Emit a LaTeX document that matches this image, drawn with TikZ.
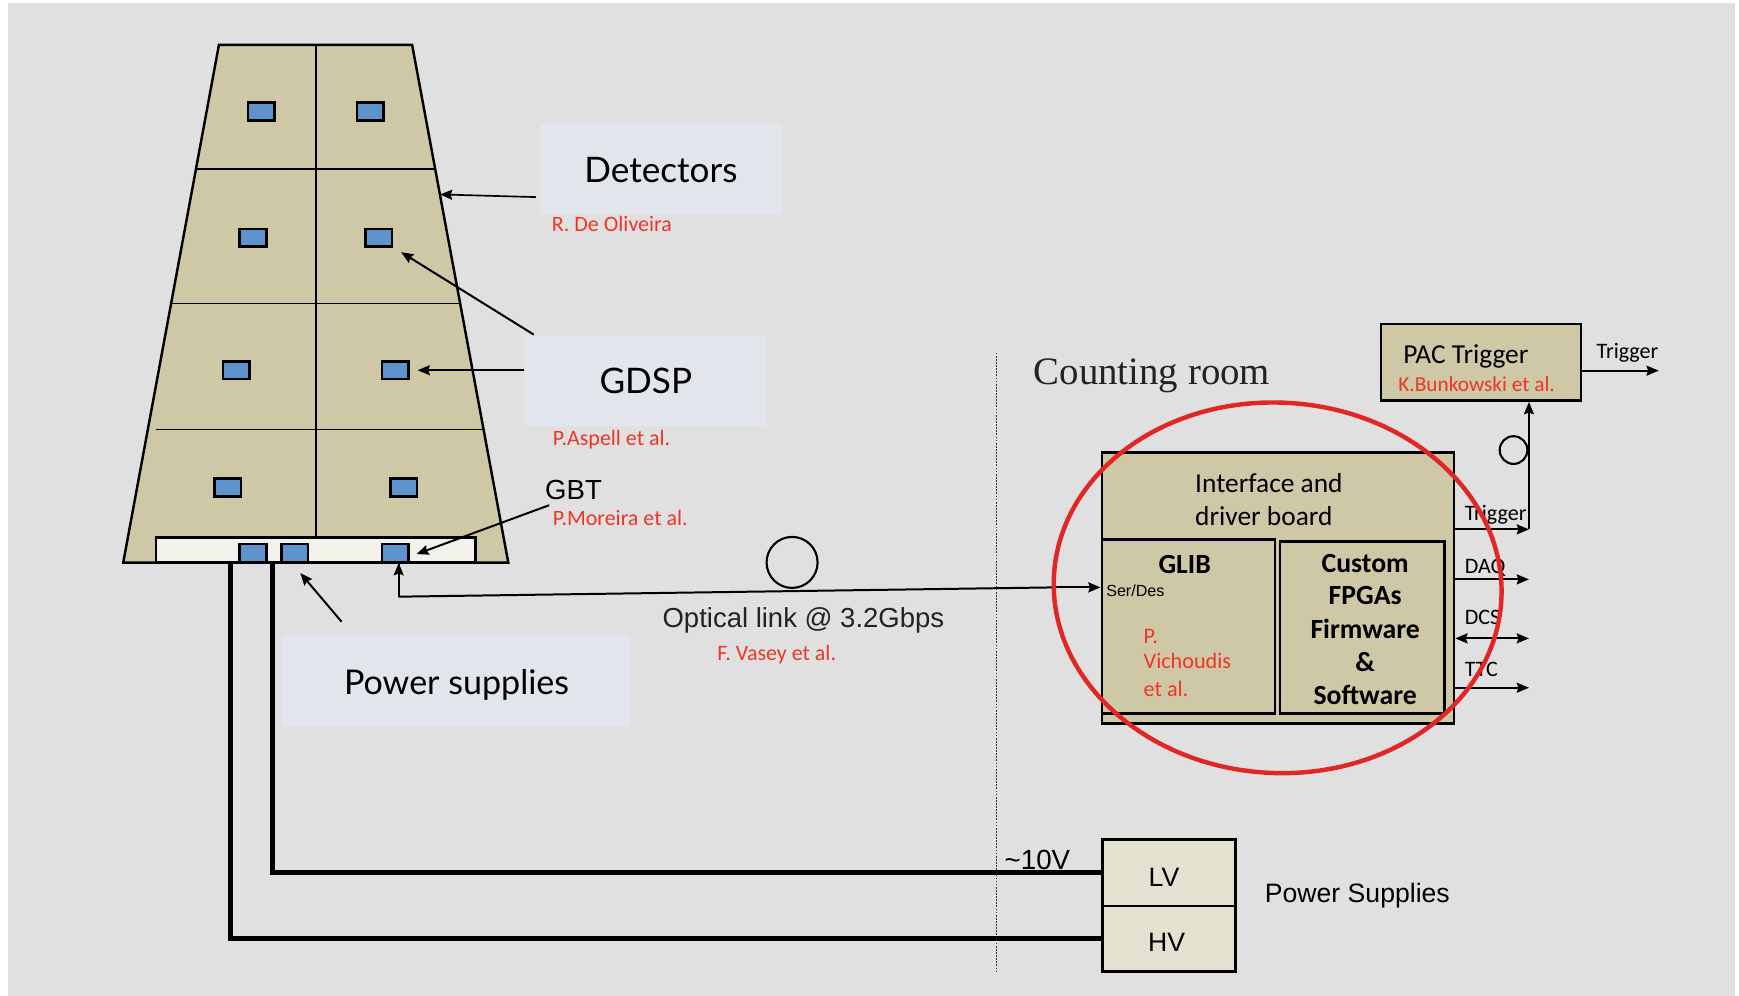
\documentclass[tikz,border=0pt]{standalone}
\usepackage{fontspec}
\setmainfont{Liberation Sans}
\newfontfamily\calfont{Carlito}
\newfontfamily\humfont{Lato}
\newfontfamily\romfont{Liberation Serif}
\usetikzlibrary{arrows.meta,calc}

\definecolor{bggray}{RGB}{224,224,224}
\definecolor{sandfill}{RGB}{207,200,166}
\definecolor{chipblue}{RGB}{94,146,204}
\definecolor{barwhite}{RGB}{243,242,234}
\definecolor{tagbg}{RGB}{226,229,236}
\definecolor{namered}{RGB}{240,52,40}
\definecolor{psfill}{RGB}{227,225,207}
\definecolor{ringred}{RGB}{226,38,38}
\definecolor{dotblue}{RGB}{45,55,75}
\definecolor{darktext}{RGB}{35,35,35}

\tikzset{
  chip/.style={draw=black, line width=2.2pt, fill=chipblue, minimum width=24pt, minimum height=16pt, inner sep=0pt},
  tag/.style={fill=tagbg, inner sep=0pt},
  board/.style={draw=black, line width=2.4pt, fill=sandfill, inner sep=0pt},
  psbox/.style={draw=black, line width=2.4pt, fill=psfill, inner sep=0pt, minimum width=120pt},
  txt/.style={inner sep=0pt, anchor=base west},
  ctxt/.style={inner sep=0pt, anchor=base},
  arr/.style={line width=1.8pt, -{Stealth[length=11pt,width=9pt,inset=1.5pt]}},
  darr/.style={line width=1.8pt, {Stealth[length=11pt,width=9pt,inset=1.5pt]}-{Stealth[length=11pt,width=9pt,inset=1.5pt]}},
  fibre/.style={line width=1.8pt},
  loopring/.style={draw=black, circle, line width=1.9pt, inner sep=0pt},
  cable/.style={line width=4.5pt, line join=miter},
  divider/.style={line width=1.6pt},
  names/.style={text=namered, font=\calfont\fontsize{19.8}{24}\selectfont},
  tagfont/.style={font=\humfont\fontsize{31.7}{36}\selectfont},
}

\begin{document}
\begin{tikzpicture}[x=1pt,y=-1pt]
\useasboundingbox (0,0) rectangle (1568,898);
\fill[white] (0,0) rectangle (1568,898);
\fill[bggray] (7.2,2.7) rectangle (1564.5,898);

% ---------------- detector stack ----------------
\coordinate (TL) at (197.4,40.4);
\coordinate (TR) at (371.6,40.4);
\coordinate (BR) at (458.3,507.3);
\coordinate (BL) at (111.1,507.3);
\filldraw[fill=sandfill, line width=2.2pt] (TL) -- (TR) -- (BR) -- (BL) -- cycle;
\draw[divider] (176.7,152.2) -- (392.4,152.2);
\draw[divider] (154.3,273.6) -- (414.9,273.6);
\draw[divider] (140.8,387.2) -- (435.5,387.2);
\draw[divider] (285,40.4) -- (285,484.8);

\node[draw=black, line width=2.2pt, fill=barwhite, minimum width=288pt, minimum height=22.5pt, inner sep=0pt] (bar) at (284.85,496.05) {};

% front-end chips
\node[chip] (c1l) at (235.5,100.5) {};
\node[chip] (c1r) at (333.9,100.5) {};
\node[chip] (c2l) at (228.1,214.3) {};
\node[chip] (c2r) at (341.6,214.3) {};
\node[chip] (c3l) at (213.1,333.8) {};
\node[chip] (c3r) at (356.5,333.8) {};
\node[chip] (c4l) at (205.3,439.6) {};
\node[chip] (c4r) at (364.1,439.6) {};
\node[chip] (b1) at (228.1,498.6) {};
\node[chip] (b2) at (265.7,498.6) {};
\node[chip] (b3) at (356.5,498.6) {};

% ---------------- labels on the left ----------------
\node[tag, minimum width=218pt, minimum height=82pt] (det) at (595.9,151.7) {};
\node[ctxt, tagfont] (detT) at (595.9,164.9) {Detectors};
\node[txt, names] (detN) at (497.5,208.3) {R. De Oliveira};

\node[tag, minimum width=218pt, minimum height=82pt] (gdsp) at (581.5,342.9) {};
\node[ctxt, tagfont] (gdspT) at (582.3,355.2) {GDSP};
\node[txt, names] (gdspN) at (498.4,401.8) {P.Aspell et al.};

\node[txt, font=\fontsize{24.9}{28}\selectfont] (gbt) at (491.4,450) {GBT};
\node[txt, names] (gbtN) at (498.4,473.5) {P.Moreira et al.};

\node[tag, minimum width=314pt, minimum height=82pt] (ps) at (411.4,613.5) {};
\node[ctxt, font=\humfont\fontsize{30.7}{36}\selectfont] (psT) at (411.7,625.8) {Power supplies};

\coordinate (detEdge) at (396.8,175.3);
\coordinate (detFrom) at (483.1,177.7);
\draw[arr, line width=1.5pt] (detFrom) -- (detEdge);
\draw[arr] ($(gdsp.north west)+(9,0)$) -- ($(c2r.south east)+(7,4)$);
\draw[arr] (gdsp.west |- c3r) -- ($(c3r.east)+(7,0)$);
\draw[arr] (495.2,455.5) -- ($(b3.east)+(6,1)$);
\draw[arr] (308,560.6) -- ($(b2.south east)+(-8,9)$);

% ---------------- optical link ----------------
\coordinate (bend) at (359.5,538);
\coordinate (sdy) at (0,529.6);
\node[loopring, minimum size=46pt] (oloop) at (714.2,507.1) {};
\draw[fibre] (bend) -- (bend |- b3.south);
\draw[arr] (bend |- 0,512) -- (bend |- b3.south);
\node[ctxt, text=darktext, font=\fontsize{24.8}{28}\selectfont] (optT) at (724.4,566.1) {Optical link @ 3.2Gbps};
\node[ctxt, names] (optN) at (700.3,595.3) {F. Vasey et al.};

% ---------------- counting room ----------------
\node[txt, text=darktext, font=\romfont\fontsize{35}{40}\selectfont] (room) at (932,347) {Counting room};

\node[board, minimum width=317.5pt, minimum height=244pt] (iface) at (1152.25,530.2) {};
\node[board, minimum width=156.2pt, minimum height=156.9pt] (glib) at (1071.6,564.75) {};
\node[board, minimum width=148.5pt, minimum height=154.8pt] (cust) at (1228.45,565.8) {};
\draw[fibre] (bend) -- ($(glib.west |- sdy)+(-40,0)$);
\draw[arr] ($(glib.west |- sdy)+(-40,0)$) -- (glib.west |- sdy);

\node[txt, font=\calfont\fontsize{24.7}{28}\selectfont] (ifT1) at (1077.5,444.4) {Interface and};
\node[txt, font=\calfont\fontsize{24.7}{28}\selectfont] (ifT2) at (1077.5,473.9) {driver board};
\node[ctxt, font=\calfont\bfseries\fontsize{25}{30}\selectfont] (glibT) at (1068.2,517.5) {GLIB};
\node[txt, font=\fontsize{14.5}{17}\selectfont] (serdes) at (997.3,538.1) {Ser/Des};
\node[txt, text=namered, font=\calfont\fontsize{20}{24}\selectfont] (vi1) at (1031,579.9) {P.};
\node[txt, text=namered, font=\calfont\fontsize{20}{24}\selectfont] (vi2) at (1031,603) {Vichoudis};
\node[txt, text=namered, font=\calfont\fontsize{20}{24}\selectfont] (vi3) at (1031,628) {et al.};
\foreach \t/\yy [count=\i] in {Custom/516, FPGAs/545.4, Firmware/575.5, \&/605.6, Software/635.6}
  \node[ctxt, font=\calfont\bfseries\fontsize{25}{30}\selectfont] (cu\i) at (1230.9,\yy) {\t};

% outputs of the board
\coordinate (yTrg) at (0,477.3);
\coordinate (yDaq) at (0,522.4);
\coordinate (yDcs) at (0,575.6);
\coordinate (yTtc) at (0,620.1);
\coordinate (trgEnd) at (1378.6,477.3);
\draw[arr] (iface.east |- yTrg) -- (trgEnd);
\draw[arr] (iface.east |- yDaq) -- (trgEnd |- yDaq);
\draw[darr] (iface.east |- yDcs) -- (trgEnd |- yDcs);
\draw[arr] (iface.east |- yTtc) -- (trgEnd |- yTtc);
\node[txt, font=\calfont\fontsize{19.9}{23}\selectfont] (lTrg) at (1320.6,469.2) {Trigger};
\node[txt, font=\calfont\fontsize{19.9}{23}\selectfont] (lDaq) at (1320.6,517.3) {DAQ};
\node[txt, font=\calfont\fontsize{19.9}{23}\selectfont] (lDcs) at (1320.6,562.9) {DCS};
\node[txt, font=\calfont\fontsize{19.9}{23}\selectfont] (lTtc) at (1320.6,610.4) {TTC};

% PAC trigger
\node[board, minimum width=180.3pt, minimum height=69.1pt] (pac) at (1335.45,326.75) {};
\node[txt, font=\calfont\fontsize{24.7}{28}\selectfont] (pacT) at (1265.1,328) {PAC Trigger};
\node[txt, text=namered, font=\calfont\fontsize{19.25}{23}\selectfont] (pacN) at (1260.6,353.4) {K.Bunkowski et al.};
\node[loopring, minimum size=25pt] (tloop) at (1364.7,405.8) {};
\draw[arr] (trgEnd) -- (trgEnd |- pac.south);
\coordinate (pacOut) at (1495.6,334.2);
\draw[arr] (pac.east |- pacOut) -- (pacOut);
\node[txt, font=\calfont\fontsize{19.9}{23}\selectfont] (pacTrg) at (1439.5,323.4) {Trigger};

% highlight ring
\draw[ringred, line width=4pt] (1152,530) ellipse [x radius=202pt, y radius=167pt, rotate=-3];

% ---------------- power supplies ----------------
\node[psbox, minimum height=60.1pt] (lv) at (1053.8,786.85) {};
\node[psbox, minimum height=59.3pt] (hv) at (1053.8,846.55) {};
\node[ctxt, font=\fontsize{24}{28}\selectfont] (lvT) at (1049.5,799.1) {LV};
\node[ctxt, font=\fontsize{24}{28}\selectfont] (hvT) at (1051.8,857.7) {HV};
\node[txt, font=\fontsize{24}{28}\selectfont] (psR) at (1140.3,813.9) {Power Supplies};
\coordinate (hvTap) at (208.1,507.3);
\coordinate (lvTap) at (245.6,507.3);
\draw[cable] (hvTap) |- (hv.west);
\draw[cable] (lvTap) |- (lv.west);
\node[txt, font=\fontsize{25}{28}\selectfont] (tenV) at (905.7,784.4) {\textasciitilde 10V};

% boundary of the counting room
\coordinate (wallTop) at (898.7,318);
\coordinate (wallBot) at (898.7,876.2);
\draw[dotblue, line width=1.3pt, dash pattern=on 1.6pt off 1.2pt] (wallTop) -- (wallBot);
\end{tikzpicture}
\end{document}
